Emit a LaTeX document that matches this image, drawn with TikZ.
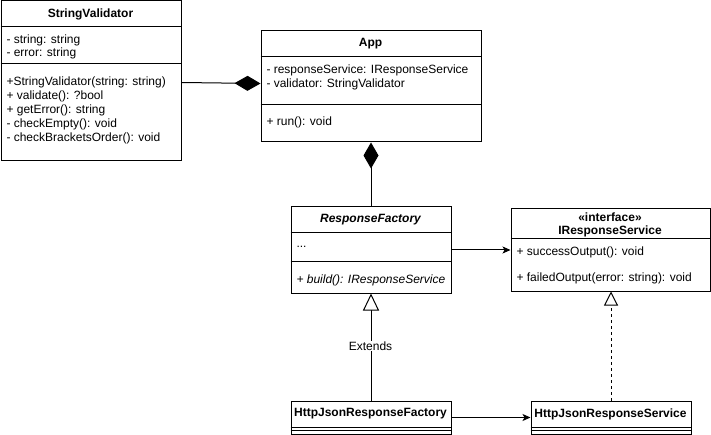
\documentclass[tikz,border=0pt]{standalone}
\usepackage{fontspec}
\setmainfont{Liberation Sans}
\usetikzlibrary{arrows.meta}
\begin{document}
\begin{tikzpicture}[x=1pt,y=-1pt,line width=1pt,
  every node/.style={font=\fontsize{12}{14}\selectfont},
  classbox/.style={draw,anchor=north west,inner sep=0pt,fill=white},
  member/.style={anchor=west,inner sep=0pt},
  ctitle/.style={inner sep=0pt,font=\fontsize{12}{14}\selectfont\bfseries},
  composition/.style={{Diamond[length=26pt,width=15pt]}-},
  inherit/.style={-{Triangle[open,length=17pt,width=16pt,fill=white]}},
  realize/.style={-{Triangle[open,length=14pt,width=14pt,fill=white]},dash pattern=on 3pt off 3pt},
  assoc/.style={-{Stealth[length=8pt,width=7pt,inset=2pt]}}]
\useasboundingbox (0,0) rectangle (711,435);

% StringValidator
\node[classbox,minimum width=180pt,minimum height=160pt] (sv) at (0.5,0.5) {};
\draw (0.5,27) -- (180.5,27);
\draw (0.5,64) -- (180.5,64);
\node[ctitle] (svt) at (90.5,14) {StringValidator};
\node[member] (sva1) at (6,40) {- string: string};
\node[member] (sva2) at (6,53) {- error: string};
\node[member] (svm1) at (6,82) {+StringValidator(string: string)};
\node[member] (svm2) at (6,96) {+ validate(): ?bool};
\node[member] (svm3) at (6,110) {+ getError(): string};
\node[member] (svm4) at (6,124) {- checkEmpty(): void};
\node[member] (svm5) at (6,138) {- checkBracketsOrder(): void};

% App
\node[classbox,minimum width=220pt,minimum height=111pt] (app) at (260.5,30.5) {};
\draw (260.5,57) -- (480.5,57);
\draw (260.5,105) -- (480.5,105);
\node[ctitle] (appt) at (370.5,44) {App};
\node[member] (appa1) at (266,70) {- responseService: IResponseService};
\node[member] (appa2) at (266,84) {- validator: StringValidator};
\node[member] (appm1) at (266,122) {+ run(): void};

% ResponseFactory
\node[classbox,minimum width=160pt,minimum height=86pt] (rf) at (290.5,206.5) {};
\draw (290.5,233) -- (450.5,233);
\draw (290.5,262) -- (450.5,262);
\node[ctitle,font=\fontsize{12}{14}\selectfont\bfseries\itshape] (rft) at (370.5,220) {ResponseFactory};
\node[member] (rfa1) at (296,247) {...};
\node[member,font=\fontsize{12}{14}\selectfont\itshape] (rfm1) at (296,280) {+ build(): IResponseService};

% IResponseService
\node[classbox,minimum width=199pt,minimum height=82pt] (irs) at (510.5,208.5) {};
\draw (510.5,239) -- (709.5,239);
\node[ctitle] (irst1) at (610,217) {«interface»};
\node[ctitle] (irst2) at (610,231) {IResponseService};
\node[member] (irsm1) at (516,252) {+ successOutput(): void};
\node[member] (irsm2) at (516,278) {+ failedOutput(error: string): void};

% HttpJsonResponseFactory
\node[classbox,minimum width=160pt,minimum height=33pt] (hf) at (290.5,400.5) {};
\draw (290.5,427) -- (450.5,427);
\draw (290.5,430) -- (450.5,430);
\node[ctitle] (hft) at (370.5,414) {HttpJsonResponseFactory};

% HttpJsonResponseService
\node[classbox,minimum width=160pt,minimum height=33pt] (hs) at (530.5,400.5) {};
\draw (530.5,427) -- (690.5,427);
\draw (530.5,430) -- (690.5,430);
\node[ctitle] (hst) at (610.5,414) {HttpJsonResponseService};

% connectors
\draw[composition] ([yshift=3pt]app.west) -- ([yshift=-1.5pt]sv.east);
\draw[composition] (app.south) -- (rf.north);
\draw[assoc] (rf.east) -- (irs.west);
\draw[inherit] (hf.north) -- (rf.south);
\node[fill=white,inner sep=1pt] (ext) at (370.5,346) {Extends};
\draw[realize] (hs.north) -- (irs.south -| hs.north);
\draw[assoc] (hf.east) -- (hs.west);
\end{tikzpicture}
\end{document}
